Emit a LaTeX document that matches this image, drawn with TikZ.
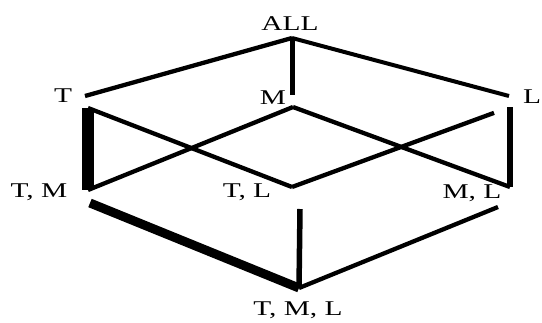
\documentclass[tikz,border=0pt]{standalone}
\usepackage{fontspec}
\usepackage{tikz}
\newfontfamily\latticefont[FakeStretch=1.4]{Liberation Serif}

\begin{document}
\begin{tikzpicture}[
    x=1pt, y=-1pt,
    elem/.style={font=\fontsize{21}{24}\selectfont\latticefont, inner sep=0pt},
    link/.style={line width=4.3pt, line cap=butt}
]
    \useasboundingbox (0,0) rectangle (542,322);

    % element labels
    \node[elem] (all) at (290,24) {ALL};
    \node[elem] (t) at (63,96) {T};
    \node[elem] (m) at (273,98) {M};
    \node[elem] (l) at (532,97) {L};
    \node[elem] (tm) at (39,192) {T, M};
    \node[elem] (tl) at (247,192) {T, L};
    \node[elem] (ml) at (472,193) {M, L};
    \node[elem] (tml) at (298,310) {T, M, L};

    % ends of the links (a = top end, b = bottom end)
    \coordinate (all-b) at (292,38);
    \coordinate (t-a) at (85,96);
    \coordinate (m-a) at (292,95);
    \coordinate (l-a) at (509,96);
    \coordinate (t-b) at (88,108);
    \coordinate (m-b) at (293,107);
    \coordinate (l-b) at (510,107);
    \coordinate (tm-a) at (88,190);
    \coordinate (tl-a) at (292,187);
    \coordinate (ml-a) at (510,187);
    \coordinate (tm-b) at (90,203);
    \coordinate (tl-b) at (300,209);
    \coordinate (ml-b) at (498,207);
    \coordinate (tml-a) at (299,288);

    \draw[link] (all-b) -- (t-a);
    \draw[link, line width=5pt] (all-b) -- (m-a);
    \draw[link, line width=4pt] (all-b) -- (l-a);

    \draw[link, line width=12pt] (t-b) -- (tm-a);
    \draw[link] (t-b) -- (tl-a);
    \draw[link] (m-b) -- (tm-a);
    \draw[link] (m-b) -- (ml-a);
    \draw[link, shorten <=17pt] (l-b) -- (tl-a);
    \draw[link, line width=5.5pt] (l-b) -- (ml-a);

    \draw[link, line width=9pt] (tm-b) -- (tml-a);
    \draw[link, line width=5.5pt] (tl-b) -- (tml-a);
    \draw[link] (ml-b) -- (tml-a);
\end{tikzpicture}
\end{document}
